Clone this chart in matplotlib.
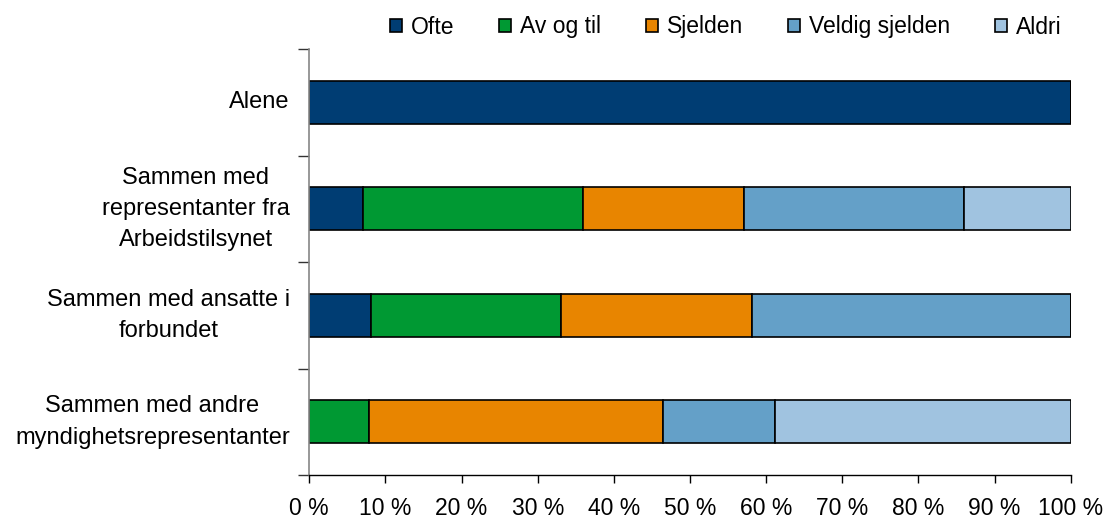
import numpy as np
import matplotlib.pyplot as plt
import matplotlib.transforms as mtransforms
from matplotlib.patches import Patch
from matplotlib.ticker import FixedLocator

plt.rcParams['font.family'] = ['Liberation Sans', 'DejaVu Sans']

# kategorier (ovenfra og ned)
categories = ['Alene',
              'Sammen med\nrepresentanter fra\nArbeidstilsynet',
              'Sammen med ansatte i\nforbundet',
              'Sammen med andre\nmyndighetsrepresentanter']
series = ['Ofte', 'Av og til', 'Sjelden', 'Veldig sjelden', 'Aldri']

ofte = [100.0, 7.1, 8.1, 0.0]
av_og_til = [0.0, 28.9, 25.0, 7.8]
sjelden = [0.0, 21.1, 25.0, 38.7]
veldig_sjelden = [0.0, 28.9, 41.9, 14.7]
aldri = [0.0, 14.0, 0.0, 38.8]

colors = ['#003D73', '#009933', '#E88500', '#64A0C8', '#A0C3E0']

values = [ofte, av_og_til, sjelden, veldig_sjelden, aldri]

fig = plt.figure(figsize=(11.08, 5.19), dpi=100)
ax = fig.add_axes([309.3 / 1108, 1 - 475 / 519, (1070.7 - 309.3) / 1108, (475 - 49) / 519])

y = np.arange(len(categories))
left = np.zeros(len(categories))
for vals, col, name in zip(values, colors, series):
    vals = np.array(vals)
    ax.barh(y, vals, left=left, height=0.405, color=col, edgecolor='black',
            linewidth=1.2, label=name)
    left += vals

ax.set_xlim(0, 100)
ax.set_ylim(3.5, -0.5)

ax.set_yticks(y)
ax.set_yticklabels(categories, fontsize=17, multialignment='center', linespacing=1.55)
ax.tick_params(axis='y', which='major', length=0, pad=14)
ax.yaxis.set_minor_locator(FixedLocator(np.arange(-0.5, 4.0, 1.0)))
ax.tick_params(axis='y', which='minor', length=8, width=1, color='#333333')

# flytt flerlinjes etiketter litt opp
for lab in ax.get_yticklabels():
    dy = 0.07 if '\n' in lab.get_text() else 0.03
    lab.set_transform(lab.get_transform() + mtransforms.ScaledTranslation(0, dy, fig.dpi_scale_trans))

ax.set_xticks(np.arange(0, 101, 10))
ax.set_xticklabels([f'{v} %' for v in range(0, 101, 10)], fontsize=16.5)
ax.tick_params(axis='x', length=5.5, width=1, pad=10)

for s in ['top', 'right']:
    ax.spines[s].set_visible(False)
ax.spines['left'].set_color('#868686')
ax.spines['left'].set_linewidth(1.2)
ax.spines['bottom'].set_color('black')
ax.spines['bottom'].set_linewidth(1)

handles = [Patch(facecolor=c, edgecolor='black', linewidth=1.2) for c in colors]
fig.legend(handles, series, loc='center', bbox_to_anchor=(725.5 / 1108, 1 - 27 / 519),
           ncol=5, frameon=False, fontsize=16.5, handlelength=0.52, handleheight=0.52,
           handletextpad=0.4, columnspacing=1.95, borderpad=0, borderaxespad=0)

fig.savefig('out.png', dpi=100)
